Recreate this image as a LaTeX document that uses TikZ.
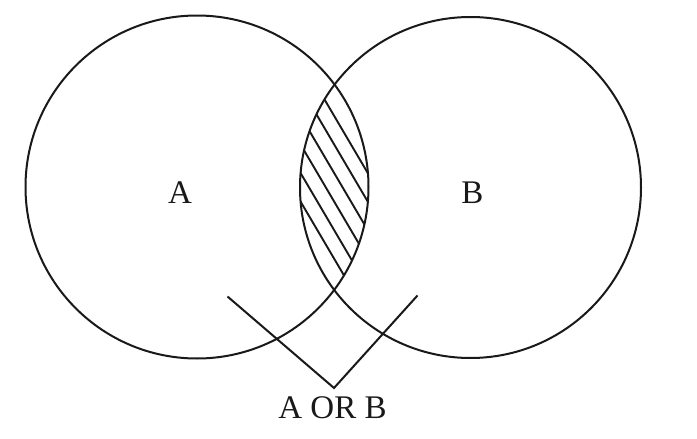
\documentclass[tikz,border=0pt]{standalone}
\usepackage{fontspec}
\setmainfont{Liberation Serif}
\begin{document}
\begin{tikzpicture}[x=1pt,y=-1pt,
  outline/.style={draw=black!90,line width=2pt},
  hatch/.style={draw=black!90,line width=1.9pt},
  label/.style={inner sep=0pt,font=\fontsize{33}{36}\selectfont,text=black!90}]
\useasboundingbox (0,0) rectangle (697,439);
\node[outline,circle,inner sep=0pt,minimum size=343pt] (circA) at (197,187) {};
\node[outline,circle,inner sep=0pt,minimum size=341pt] (circB) at (470.5,187.5) {};
\begin{scope}
  \clip (197,187) circle (171.5);
  \clip (470.5,187.5) circle (170.5);
  \foreach \c in {266,249.2,232.4,215.6,198.8,182}{
    \draw[hatch] (\c+35.3,60) -- (\c+188.2,320);
  }
\end{scope}
\node[label] (lA) at (180,192.5) {A};
\node[label] (lB) at (472.5,192.5) {B};
\node[label] (lAB) at (332.5,407.5) {A OR B};
\coordinate (vl) at (227.5,296.5);
\coordinate (vb) at (334,388);
\coordinate (vr) at (417.5,295.5);
\draw[outline,line join=miter] (vl) -- (vb) -- (vr);
\end{tikzpicture}
\end{document}
